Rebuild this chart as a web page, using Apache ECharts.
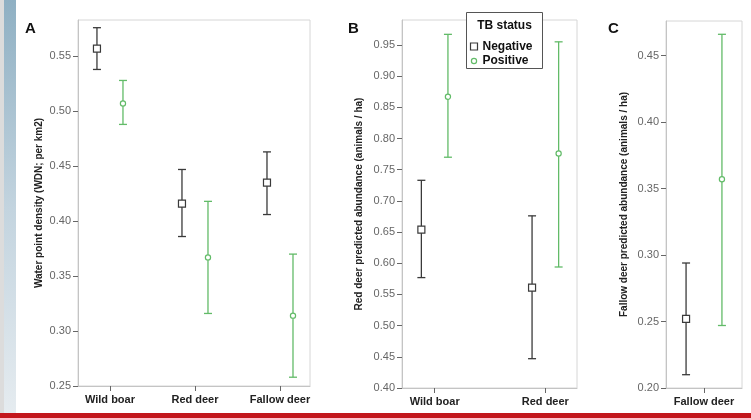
<!DOCTYPE html>
<html>
<head>
<meta charset="utf-8">
<script src="https://cdn.jsdelivr.net/npm/echarts@6/dist/echarts.min.js"></script>
<style>
  html, body { margin: 0; padding: 0; background: #fff; }
  #chart { width: 751px; height: 418px; }
</style>
</head>
<body>
<div id="chart"></div>
<script>
// 面板A：水点密度
const catsA = ['Wild boar', 'Red deer', 'Fallow deer'];
const waterNegMean = [0.557, 0.416, 0.435];
const waterNegLow = [0.538, 0.386, 0.406];
const waterNegHigh = [0.576, 0.447, 0.463];
const waterPosMean = [0.507, 0.367, 0.314];
const waterPosLow = [0.488, 0.316, 0.258];
const waterPosHigh = [0.528, 0.418, 0.370];
const ticksA = [0.25, 0.30, 0.35, 0.40, 0.45, 0.50, 0.55];

// 面板B：马鹿丰度
const catsB = ['Wild boar', 'Red deer'];
const redNegMean = [0.654, 0.561];
const redNegLow = [0.577, 0.447];
const redNegHigh = [0.733, 0.676];
const redPosMean = [0.867, 0.776];
const redPosLow = [0.770, 0.594];
const redPosHigh = [0.967, 0.955];
const ticksB = [0.40, 0.45, 0.50, 0.55, 0.60, 0.65, 0.70, 0.75, 0.80, 0.85, 0.90, 0.95];

// 面板C：黇鹿丰度
const catsC = ['Fallow deer'];
const fallowNegMean = [0.252];
const fallowNegLow = [0.210];
const fallowNegHigh = [0.294];
const fallowPosMean = [0.357];
const fallowPosLow = [0.247];
const fallowPosHigh = [0.466];
const ticksC = [0.20, 0.25, 0.30, 0.35, 0.40, 0.45];

const NEG_COLOR = '#3a3a3a';
const POS_COLOR = '#62bb68';
const FONT = 'Liberation Sans, Arial, sans-serif';

// 组装误差条数据：[x位置, 均值, 下限, 上限]
function buildRows(mean, low, high, offset) {
  return mean.map((m, i) => [i + 1 + offset, m, low[i], high[i]]);
}

function errorBarRenderer(color, shape) {
  return function (params, api) {
    const x = api.value(0);
    const pm = api.coord([x, api.value(1)]);
    const pl = api.coord([x, api.value(2)]);
    const ph = api.coord([x, api.value(3)]);
    const cap = 4;
    const style = { stroke: color, lineWidth: 1.3, fill: null };
    const children = [
      { type: 'line', shape: { x1: pl[0], y1: pl[1], x2: ph[0], y2: ph[1] }, style },
      { type: 'line', shape: { x1: pl[0] - cap, y1: pl[1], x2: pl[0] + cap, y2: pl[1] }, style },
      { type: 'line', shape: { x1: ph[0] - cap, y1: ph[1], x2: ph[0] + cap, y2: ph[1] }, style }
    ];
    if (shape === 'square') {
      children.push({ type: 'rect', shape: { x: pm[0] - 3.5, y: pm[1] - 3.5, width: 7, height: 7 },
        style: { stroke: color, lineWidth: 1.2, fill: '#fff' } });
    } else {
      children.push({ type: 'circle', shape: { cx: pm[0], cy: pm[1], r: 2.6 },
        style: { stroke: color, lineWidth: 1.2, fill: '#fff' } });
    }
    return { type: 'group', children };
  };
}

function makeX(gridIndex, min, max, cats) {
  const pos = cats.map((c, i) => i + 1);
  return {
    type: 'value', gridIndex, min, max,
    splitLine: { show: false },
    axisLine: { lineStyle: { color: '#c4c4c4' } },
    axisTick: { customValues: pos, length: 5, lineStyle: { color: '#666' } },
    axisLabel: {
      customValues: pos, margin: 8,
      formatter: v => cats[Math.round(v) - 1] || '',
      color: '#222', fontWeight: 'bold', fontSize: 11, fontFamily: FONT
    }
  };
}

function makeY(gridIndex, min, max, ticks, name, nameGap) {
  return {
    type: 'value', gridIndex, min, max,
    name, nameLocation: 'middle', nameGap,
    nameTextStyle: { fontWeight: 'bold', fontSize: 10, color: '#222', fontFamily: FONT },
    splitLine: { show: false },
    axisLine: { show: true, lineStyle: { color: '#c4c4c4' } },
    axisTick: { customValues: ticks, length: 5, lineStyle: { color: '#666' } },
    axisLabel: {
      customValues: ticks, margin: 7,
      formatter: v => v.toFixed(2),
      color: '#666', fontSize: 11, fontFamily: FONT
    }
  };
}

function barSeries(xi, rows, color, shape) {
  return {
    type: 'custom', xAxisIndex: xi, yAxisIndex: xi,
    renderItem: errorBarRenderer(color, shape),
    encode: { x: 0, y: [1, 2, 3] },
    data: rows, silent: true
  };
}

const gridBox = { show: true, borderColor: '#d6d6d6', borderWidth: 1, backgroundColor: '#fff' };

const option = {
  animation: false,
  backgroundColor: '#fff',
  grid: [
    Object.assign({ left: 78, right: 441, top: 20, bottom: 32 }, gridBox),
    Object.assign({ left: 402, right: 174, top: 20, bottom: 30 }, gridBox),
    Object.assign({ left: 666, right: 9, top: 21, bottom: 30 }, gridBox)
  ],
  xAxis: [
    makeX(0, 0.624, 3.353, catsA),
    makeX(1, 0.705, 2.286, catsB),
    makeX(2, 0.5, 1.5, catsC)
  ],
  yAxis: [
    makeY(0, 0.25, 0.583, ticksA, 'Water point density (WDN; per km2)', 34),
    makeY(1, 0.40, 0.990, ticksB, 'Red deer predicted abundance (animals / ha)', 38),
    makeY(2, 0.20, 0.476, ticksC, 'Fallow deer predicted abundance (animals / ha)', 37)
  ],
  series: [
    barSeries(0, buildRows(waterNegMean, waterNegLow, waterNegHigh, -0.153), NEG_COLOR, 'square'),
    barSeries(0, buildRows(waterPosMean, waterPosLow, waterPosHigh, 0.153), POS_COLOR, 'circle'),
    barSeries(1, buildRows(redNegMean, redNegLow, redNegHigh, -0.12), NEG_COLOR, 'square'),
    barSeries(1, buildRows(redPosMean, redPosLow, redPosHigh, 0.12), POS_COLOR, 'circle'),
    barSeries(2, buildRows(fallowNegMean, fallowNegLow, fallowNegHigh, -0.236), NEG_COLOR, 'square'),
    barSeries(2, buildRows(fallowPosMean, fallowPosLow, fallowPosHigh, 0.236), POS_COLOR, 'circle')
  ],
  graphic: [
    // 左侧装饰条
    { type: 'rect', left: 0, top: 0, shape: { width: 4, height: 418 }, style: { fill: '#dcdcdc' }, z: 10 },
    { type: 'rect', left: 4, top: 0, shape: { width: 12, height: 418 },
      style: { fill: new echarts.graphic.LinearGradient(0, 0, 0, 1, [
        { offset: 0, color: '#8fb0c3' }, { offset: 0.5, color: '#c3d4df' }, { offset: 1, color: '#e6ecf0' }
      ]) }, z: 10 },
    // 底部红线
    { type: 'rect', left: 0, top: 413, shape: { width: 751, height: 5 }, style: { fill: '#c3161c' }, z: 10 },
    // 面板字母
    { type: 'text', left: 25, top: 21, style: { text: 'A', font: 'bold 15px ' + FONT, fill: '#111' }, z: 10 },
    { type: 'text', left: 348, top: 21, style: { text: 'B', font: 'bold 15px ' + FONT, fill: '#111' }, z: 10 },
    { type: 'text', left: 608, top: 21, style: { text: 'C', font: 'bold 15px ' + FONT, fill: '#111' }, z: 10 },
    // 图例
    { type: 'group', left: 466, top: 12, z: 20, children: [
      { type: 'rect', shape: { x: 0, y: 0, width: 76, height: 56 },
        style: { fill: '#fff', stroke: '#555', lineWidth: 1 } },
      { type: 'text', x: 38, y: 13, style: { text: 'TB status', font: 'bold 12px ' + FONT, fill: '#111',
        align: 'center', verticalAlign: 'middle' } },
      { type: 'rect', shape: { x: 4, y: 30.5, width: 7, height: 7 },
        style: { fill: '#fff', stroke: NEG_COLOR, lineWidth: 1.2 } },
      { type: 'text', x: 16, y: 34, style: { text: 'Negative', font: 'bold 12px ' + FONT, fill: '#111',
        verticalAlign: 'middle' } },
      { type: 'circle', shape: { cx: 7.5, cy: 48.5, r: 2.6 },
        style: { fill: '#fff', stroke: POS_COLOR, lineWidth: 1.2 } },
      { type: 'text', x: 16, y: 48.5, style: { text: 'Positive', font: 'bold 12px ' + FONT, fill: '#111',
        verticalAlign: 'middle' } }
    ] }
  ]
};

const chart = echarts.init(document.getElementById('chart'));
chart.setOption(option);
</script>
</body>
</html>
